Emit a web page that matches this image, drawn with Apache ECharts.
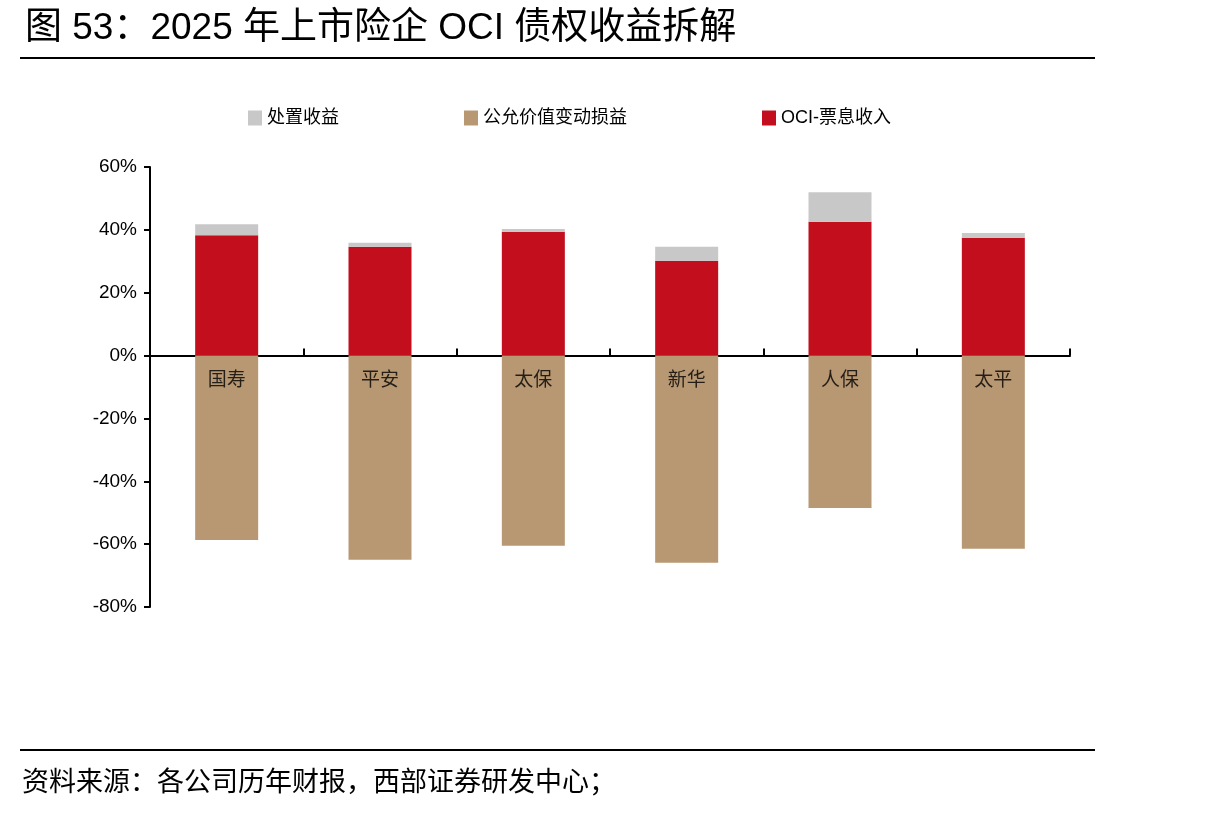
<!DOCTYPE html>
<html>
<head>
<meta charset="utf-8">
<script src="https://cdn.jsdelivr.net/npm/echarts@6/dist/echarts.min.js"></script>
<style>
  html, body { margin: 0; padding: 0; background: #fff; }
  #chart { width: 1215px; height: 817px; }
</style>
</head>
<body>
<div id="chart"></div>
<script>
  // 数据
  const companies = ['国寿', '平安', '太保', '新华', '人保', '太平'];
  const couponIncome = [38.3, 34.6, 39.4, 30.2, 42.6, 37.5];   // OCI-票息收入
  const disposalGain = [3.5, 1.3, 0.9, 4.4, 9.4, 1.5];         // 处置收益
  const fairValueChg = [-58.7, -65.0, -60.5, -65.9, -48.5, -61.5]; // 公允价值变动损益
  const yTicks = { min: -80, max: 60, interval: 20 };

  const cjk = '"Liberation Sans", "Noto Sans CJK SC", sans-serif';

  const legendText = { fontFamily: cjk, fontSize: 18, color: '#000' };
  const mkLegend = (name, left) => ({
    data: [name], left: left, top: 104, itemWidth: 14, itemHeight: 15,
    icon: 'rect', itemGap: 10, textStyle: legendText
  });

  const chart = echarts.init(document.getElementById('chart'));

  chart.setOption({
    animation: false,
    backgroundColor: '#fff',
    title: {
      text: '图 53：2025 年上市险企 OCI 债权收益拆解',
      left: 20,
      top: 5,
      textStyle: { fontFamily: cjk, fontSize: 37, fontWeight: 'normal', color: '#000' }
    },
    legend: [
      mkLegend('处置收益', 243),
      mkLegend('公允价值变动损益', 459),
      mkLegend('OCI-票息收入', 757)
    ],
    grid: { left: 150, right: 145, top: 167, bottom: 210, containLabel: false },
    xAxis: {
      type: 'category',
      data: companies,
      axisLine: { onZero: true, lineStyle: { color: '#000', width: 2 } },
      axisTick: { show: true, inside: true, length: 7, lineStyle: { color: '#000', width: 2 } },
      axisLabel: { show: false }
    },
    yAxis: {
      type: 'value',
      min: yTicks.min,
      max: yTicks.max,
      interval: yTicks.interval,
      splitLine: { show: false },
      axisLine: { show: true, lineStyle: { color: '#000', width: 2 } },
      axisTick: { show: true, length: 6, lineStyle: { color: '#000', width: 2 } },
      axisLabel: { formatter: '{value}%', margin: 13, fontFamily: cjk, fontSize: 19, color: '#000' }
    },
    series: [
      {
        name: 'OCI-票息收入', type: 'bar', stack: 'total', barWidth: 63,
        itemStyle: { color: '#C20E1D' }, data: couponIncome
      },
      {
        name: '处置收益', type: 'bar', stack: 'total', barWidth: 63,
        itemStyle: { color: '#C8C8C8' }, data: disposalGain
      },
      {
        name: '公允价值变动损益', type: 'bar', stack: 'total', barWidth: 63,
        itemStyle: { color: '#B89873' }, data: fairValueChg
      },
      {
        // 类目名称贴在 0 轴下方
        name: 'catLabel', type: 'scatter', symbolSize: 0, silent: true, z: 10,
        data: companies.map(c => [c, 0]),
        label: {
          show: true, position: 'bottom', distance: 16, formatter: p => p.name || p.value[0],
          fontFamily: cjk, fontSize: 19, color: '#000'
        }
      }
    ],
    graphic: [
      { type: 'rect', shape: { x: 20, y: 57, width: 1075, height: 2 }, style: { fill: '#000' } },
      { type: 'rect', shape: { x: 20, y: 749, width: 1075, height: 2 }, style: { fill: '#000' } },
      {
        type: 'text', left: 22, top: 770,
        style: { text: '资料来源：各公司历年财报，西部证券研发中心；', fontFamily: cjk, fontSize: 27, fill: '#000' }
      }
    ]
  });
</script>
</body>
</html>
